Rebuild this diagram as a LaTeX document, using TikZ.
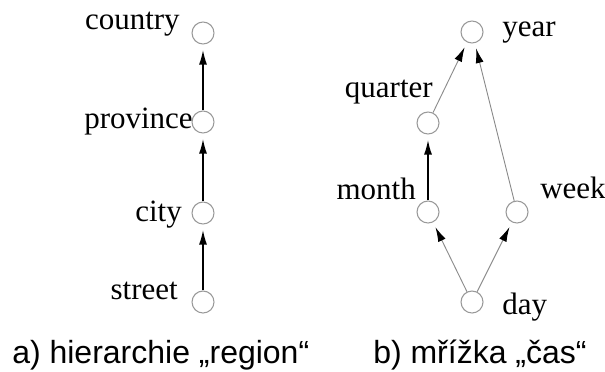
\documentclass[tikz,border=0pt]{standalone}
\usepackage{fontspec}
\setmainfont{Liberation Serif}
\newfontfamily\capfont{Liberation Sans}
\usetikzlibrary{arrows.meta}
\begin{document}
\begin{tikzpicture}[x=0.75pt,y=-0.75pt,
  vertex/.style={circle,draw=black!40,line width=0.8pt,minimum size=16.5pt,inner sep=0pt},
  lbl/.style={inner sep=0pt,font=\fontsize{23.25}{28}\selectfont},
  captext/.style={inner sep=0pt,anchor=base west,font=\capfont\fontsize{24}{29}\selectfont},
  arrowtip/.style={-{Latex[length=11pt,width=6pt,color=black]},shorten >=4pt},
  strongedge/.style={arrowtip,draw=black,line width=1.2pt},
  weakedge/.style={arrowtip,draw=black!45,line width=0.7pt}]
\useasboundingbox (0,0) rectangle (605,371);
% hierarchy a)
\node[vertex] (country)  at (203,33)  {};
\node[vertex] (province) at (203,122) {};
\node[vertex] (city)     at (203,213) {};
\node[vertex] (street)   at (203,302) {};
\node[lbl,anchor=base east] (lcountry)  at (180,29)  {country};
\node[lbl,anchor=base east] (lprovince) at (193,128) {province};
\node[lbl,anchor=base east] (lcity)     at (182,221) {city};
\node[lbl,anchor=base east] (lstreet)   at (178,299) {street};
\draw[strongedge] (street) -- (city);
\draw[strongedge] (city) -- (province);
\draw[strongedge] (province) -- (country);
% lattice b)
\node[vertex] (year)    at (472,32)  {};
\node[vertex] (quarter) at (428,123) {};
\node[vertex] (month)   at (428,212) {};
\node[vertex] (week)    at (517,212) {};
\node[vertex] (day)     at (472,302) {};
\node[lbl,anchor=base west] (lyear)    at (502,36)  {year};
\node[lbl,anchor=base east] (lquarter) at (433,97)  {quarter};
\node[lbl,anchor=base east] (lmonth)   at (416,199) {month};
\node[lbl,anchor=base west] (lweek)    at (540,198) {week};
\node[lbl,anchor=base west] (lday)     at (502,314) {day};
\draw[weakedge] (day) -- (month);
\draw[weakedge] (day) -- (week);
\draw[strongedge] (month) -- (quarter);
\draw[weakedge] (quarter) -- (year);
\draw[weakedge] (week) -- (year);
% captions
\node[captext] (capa) at (12,363)  {a) hierarchie „region“};
\node[captext] (capb) at (373,363) {b) mřížka „čas“};
\end{tikzpicture}
\end{document}
